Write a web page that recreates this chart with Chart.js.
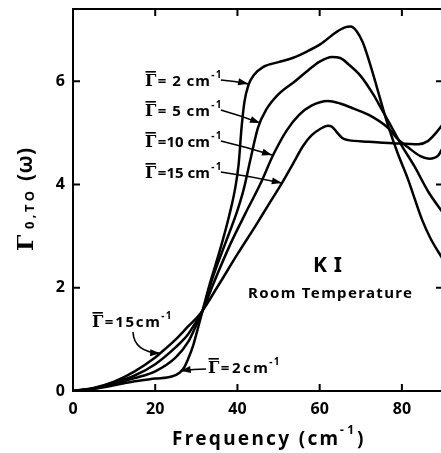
<!DOCTYPE html>
<html>
<head>
<meta charset="utf-8">
<script src="https://cdn.jsdelivr.net/npm/chart.js@4.4.1/dist/chart.umd.min.js"></script>
<style>
  html, body { margin: 0; padding: 0; background: #fff; overflow: hidden; }
  #wrap { width: 450px; height: 453px; }
</style>
</head>
<body>
<div id="wrap"><canvas id="kiChart" width="450" height="453"></canvas></div>
<script>
// KI, room temperature: Gamma_0,TO(omega) for several damping widths
const FREQ_G2 = [0, 5, 10, 15, 20, 24, 26, 27, 28, 29.3, 30.5, 31.5, 33, 36, 38, 39.5, 40.3, 41, 41.7, 42.7, 44, 46.3, 50, 53.4, 57, 60.2, 64, 66, 67.5, 69, 70.5, 72, 73.5, 75, 76.8, 79, 81.5, 83, 85, 87, 90];
const RESP_G2 = [0, 0.04, 0.11, 0.19, 0.24, 0.28, 0.36, 0.45, 0.62, 0.9, 1.25, 1.55, 2.0, 2.8, 3.4, 3.95, 4.4, 5.1, 5.6, 5.93, 6.12, 6.28, 6.37, 6.45, 6.58, 6.72, 6.95, 7.04, 7.06, 6.97, 6.75, 6.4, 6.0, 5.58, 5.1, 4.6, 4.1, 3.75, 3.3, 2.95, 2.55];

const FREQ_G5 = [0, 5, 10, 15, 20, 25, 28, 30, 31.5, 34, 37, 40, 41.5, 43.2, 45, 47, 50, 54, 57, 60, 63, 65, 67, 70, 73, 75, 77.3, 80, 83, 86.5, 90];
const RESP_G5 = [0, 0.05, 0.14, 0.25, 0.38, 0.65, 0.95, 1.28, 1.55, 2.2, 2.85, 3.5, 3.9, 4.5, 5.1, 5.45, 5.75, 6.0, 6.2, 6.38, 6.47, 6.45, 6.33, 6.1, 5.75, 5.47, 5.14, 4.75, 4.36, 3.85, 3.45];

const FREQ_G10 = [0, 5, 10, 15, 20, 25, 28, 30, 31.5, 34, 38.3, 42, 45.5, 48.8, 52, 55, 58, 62, 65, 68.3, 72.4, 76.6, 79, 81.5, 84.5, 86.6, 88.8, 90];
const RESP_G10 = [0, 0.05, 0.16, 0.3, 0.52, 0.85, 1.1, 1.35, 1.55, 2.05, 2.85, 3.45, 4.0, 4.59, 5.05, 5.35, 5.53, 5.62, 5.57, 5.47, 5.33, 5.1, 4.88, 4.72, 4.55, 4.5, 4.56, 4.72];

const FREQ_G15 = [0, 5, 10, 15, 20, 21.2, 25, 28, 31, 35, 40, 44.4, 47.5, 51, 53.5, 56, 58, 60.2, 62, 63, 64, 65.5, 67, 72, 78, 84, 86.3, 88.3, 90];
const RESP_G15 = [0, 0.06, 0.18, 0.38, 0.65, 0.73, 1.0, 1.25, 1.5, 2.0, 2.65, 3.2, 3.6, 4.05, 4.4, 4.75, 4.95, 5.08, 5.14, 5.12, 5.03, 4.9, 4.86, 4.83, 4.8, 4.78, 4.84, 5.0, 5.17];

const GAMMA_WIDTHS = ['2', '5', '10', '15'];
const X_TICKS = [0, 20, 40, 60, 80];
const Y_TICKS = [0, 2, 4, 6];

const FONT = '"Noto Sans", "DejaVu Sans", sans-serif';
const SERIF = '"DejaVu Serif", "Liberation Serif", serif';
const INK = '#000';

// label rows to the left of the peaks: text start px, baseline px, arrow tip in data units
const UPPER_LABELS = [
    { num: ' 2', x: 145, base: 86, tip: [42.6, 5.95] },
    { num: ' 5', x: 145, base: 116, tip: [45.5, 5.19] },
    { num: '10', x: 145, base: 147, tip: [48.4, 4.57] },
    { num: '15', x: 145, base: 178, tip: [50.8, 4.03] }
];

function toPoints(xs, ys) {
    return xs.map((x, i) => ({ x, y: ys[i] }));
}

function fitText(ctx, text, x, y, width) {
    ctx.letterSpacing = '0px';
    const w = ctx.measureText(text).width;
    const sp = text.length > 1 ? (width - w) / (text.length - 1) : 0;
    ctx.letterSpacing = sp.toFixed(2) + 'px';
    ctx.fillText(text, x, y);
    ctx.letterSpacing = '0px';
    return x + width;
}

function drawArrow(ctx, x0, y0, cx, cy, x1, y1) {
    ctx.beginPath();
    ctx.moveTo(x0, y0);
    ctx.quadraticCurveTo(cx, cy, x1, y1);
    ctx.lineWidth = 1.6;
    ctx.stroke();
    const a = Math.atan2(y1 - cy, x1 - cx);
    const len = 10, half = 3.5;
    ctx.beginPath();
    ctx.moveTo(x1, y1);
    ctx.lineTo(x1 - len * Math.cos(a) + half * Math.sin(a), y1 - len * Math.sin(a) - half * Math.cos(a));
    ctx.lineTo(x1 - len * Math.cos(a) - half * Math.sin(a), y1 - len * Math.sin(a) + half * Math.cos(a));
    ctx.closePath();
    ctx.fill();
}

// Γ with an overbar, then "=N cm" and a raised -1
function gammaLabel(ctx, x, base, body, bodyWidth) {
    ctx.font = 'bold 16px ' + SERIF;
    ctx.textAlign = 'left';
    ctx.textBaseline = 'alphabetic';
    ctx.fillText('Γ', x, base);
    const gw = ctx.measureText('Γ').width;
    ctx.fillRect(x + 0.5, base - 15, gw - 1, 1.6);
    ctx.font = 'bold 15px ' + FONT;
    const end = fitText(ctx, body, x + gw + 1.5, base, bodyWidth);
    ctx.font = 'bold 10px ' + FONT;
    fitText(ctx, '-1', end + 1.5, base - 8, 10);
    return end + 12;
}

const framePlugin = {
    id: 'frameAndNotes',
    afterDraw(chart) {
        const { ctx, chartArea: a, scales: { x, y } } = chart;
        ctx.save();
        ctx.strokeStyle = INK;
        ctx.fillStyle = INK;
        ctx.lineWidth = 2;
        ctx.strokeRect(a.left, a.top, a.right - a.left, a.bottom - a.top);

        // inward tick marks on all four sides
        ctx.beginPath();
        X_TICKS.filter(v => v > 0).forEach(v => {
            const px = x.getPixelForValue(v);
            ctx.moveTo(px, a.bottom); ctx.lineTo(px, a.bottom - 7);
            ctx.moveTo(px, a.top); ctx.lineTo(px, a.top + 7);
        });
        Y_TICKS.filter(v => v > 0).forEach(v => {
            const py = y.getPixelForValue(v);
            ctx.moveTo(a.left, py); ctx.lineTo(a.left + 7, py);
            ctx.moveTo(a.right, py); ctx.lineTo(a.right - 7, py);
        });
        ctx.stroke();

        // upper labels with arrows to each curve
        UPPER_LABELS.forEach(l => {
            const end = gammaLabel(ctx, l.x, l.base, '=' + l.num + ' cm', 52);
            const tx = x.getPixelForValue(l.tip[0]);
            const ty = y.getPixelForValue(l.tip[1]);
            const sx = end - 1, sy = l.base - 6;
            drawArrow(ctx, sx, sy, (sx + tx) / 2, (sy + ty) / 2 - 1, tx, ty);
        });

        // lower labels near the origin
        gammaLabel(ctx, 92, 327, '=15cm', 55);
        drawArrow(ctx, 133, 332, 134, 352, x.getPixelForValue(21.2), y.getPixelForValue(0.73));
        gammaLabel(ctx, 208, 373, '=2cm', 47);
        drawArrow(ctx, 206, 369, 194, 369, x.getPixelForValue(26.2), y.getPixelForValue(0.39));

        ctx.textAlign = 'left';
        ctx.font = 'bold 21px ' + FONT;
        fitText(ctx, 'K I', 313, 272, 29);
        ctx.font = 'bold 15px ' + FONT;
        fitText(ctx, 'Room Temperature', 248, 298, 164);

        // x axis title
        ctx.font = 'bold 19px ' + FONT;
        let ex = fitText(ctx, 'Frequency (cm', 172, 445, 166);
        ctx.font = 'bold 12px ' + FONT;
        fitText(ctx, '-1', ex + 2, 434, 14);
        ctx.font = 'bold 19px ' + FONT;
        ctx.fillText(')', ex + 19, 445);

        // y axis title, rotated
        ctx.translate(33, 251);
        ctx.rotate(-Math.PI / 2);
        ctx.font = 'bold 23px ' + SERIF;
        ctx.fillText('Γ', 0, 0);
        ctx.font = 'bold 13px ' + FONT;
        fitText(ctx, '0,TO', 22, 1, 38);
        ctx.font = 'bold 21px ' + FONT;
        fitText(ctx, '(ω)', 70, -1, 33);
        ctx.restore();
    }
};

const tickFont = { family: FONT, size: 16, weight: 'bold' };

const series = [
    toPoints(FREQ_G2, RESP_G2),
    toPoints(FREQ_G5, RESP_G5),
    toPoints(FREQ_G10, RESP_G10),
    toPoints(FREQ_G15, RESP_G15)
];

new Chart(document.getElementById('kiChart'), {
    type: 'line',
    data: {
        datasets: series.map((pts, i) => ({
            label: 'Γ = ' + GAMMA_WIDTHS[i] + ' cm-1',
            data: pts,
            borderColor: INK,
            borderWidth: 2.5,
            pointRadius: 0,
            fill: false,
            cubicInterpolationMode: 'monotone'
        }))
    },
    options: {
        responsive: false,
        animation: false,
        layout: { padding: { top: 9, right: 7, left: 0, bottom: 0 } },
        plugins: { legend: { display: false }, tooltip: { enabled: false } },
        scales: {
            x: {
                type: 'linear', min: 0, max: 90,
                grid: { display: false, drawTicks: false },
                border: { display: false },
                ticks: { stepSize: 20, includeBounds: false, padding: 9, color: INK, font: tickFont, maxRotation: 0, autoSkip: false },
                afterFit: s => { s.height = 62; s.paddingLeft = 0; s.paddingRight = 0; }
            },
            y: {
                type: 'linear', min: 0, max: 7.4,
                grid: { display: false, drawTicks: false },
                border: { display: false },
                ticks: { stepSize: 2, includeBounds: false, padding: 8, color: INK, font: tickFont },
                // no extra room for the tick labels above the frame
                afterFit: s => { s.width = 73; s.paddingTop = 0; s.paddingBottom = 0; }
            }
        }
    },
    plugins: [framePlugin]
});
</script>
</body>
</html>
